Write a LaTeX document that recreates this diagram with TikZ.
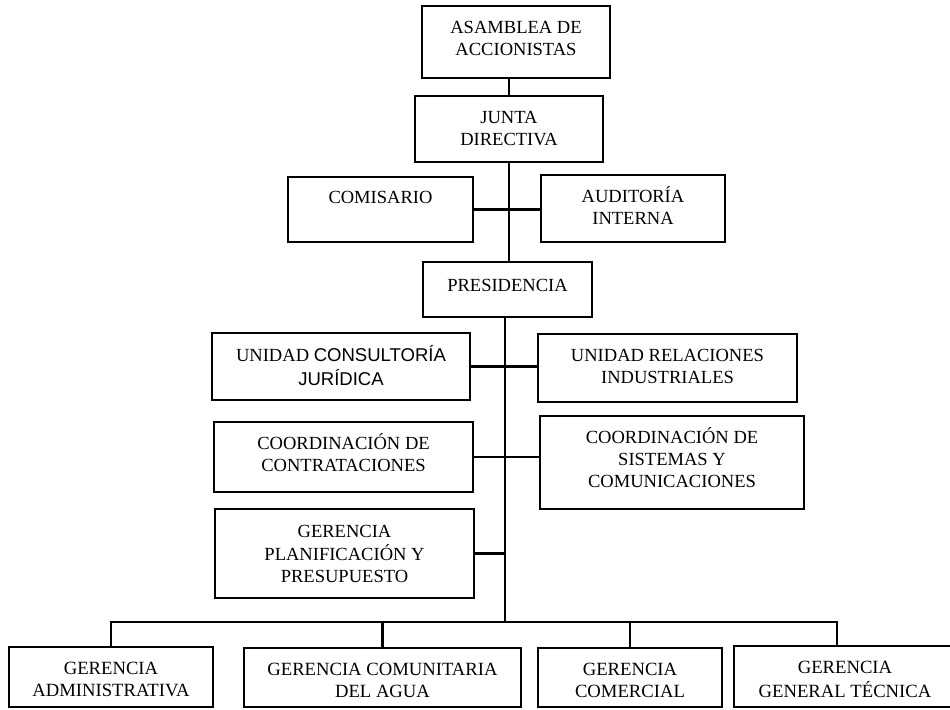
\documentclass[tikz,border=0pt]{standalone}
\usepackage{fontspec}
\setmainfont{Liberation Serif}
\newfontfamily\sansf{Liberation Sans}
\usetikzlibrary{positioning}
\tikzset{
	caja/.style 2 args={draw, line width=1.4pt, inner sep=0pt, minimum width=#1*0.75pt, minimum height=#2*0.75pt},
	texto/.style={inner sep=0pt, align=center, font=\fontsize{13.9}{16.5}\selectfont},
	textog/.style={texto, font=\fontsize{14}{16.5}\selectfont},
	linea/.style={line width=1.6pt}
}
\begin{document}
\begin{tikzpicture}[x=0.75pt, y=-0.75pt]
		\useasboundingbox (0,0) rectangle (950,710);
		
		\node[caja={188}{72}] (asamblea) at (516,42) {};
		\node[caja={188}{66}] (junta) at (509,129) {};
		\node[caja={185}{65}] (comisario) at (380.5,209.5) {};
		\node[caja={184}{67}] (auditoria) at (633,208.5) {};
		\node[caja={169}{55}] (presidencia) at (507.5,289.5) {};
		
		\node[caja={258}{67}] (consultoria) at (341,366.5) {};
		\node[caja={259}{68}] (relaciones) at (667.5,368) {};
		\node[caja={259}{70}] (contrataciones) at (343.5,457) {};
		\node[caja={264}{93}] (sistemas) at (672,462.5) {};
		\node[caja={259}{89}] (planificacion) at (344.5,553.5) {};
		
		\node[caja={204}{60}] (administrativa) at (111,677) {};
		\node[caja={277}{59}] (comunitaria) at (382.5,677.5) {};
		\node[caja={184}{59}] (comercial) at (630,677.5) {};
		\node[caja={222}{61}] (tecnica) at (845,676.5) {};
		
		\node[texto, below=9.5pt of asamblea.north] (asamblea-t) {\strut ASAMBLEA DE\\ACCIONISTAS};
		\node[texto, below=9.5pt of junta.north] (junta-t) {\strut JUNTA\\DIRECTIVA};
		\node[texto, below=9pt of comisario.north] (comisario-t) {\strut COMISARIO};
		\node[texto, below=9pt of auditoria.north] (auditoria-t) {\strut AUDITORÍA\\INTERNA};
		\node[texto, below=11pt of presidencia.north] (presidencia-t) {\strut PRESIDENCIA};
		\node[texto, below=9.5pt of consultoria.north] (consultoria-t) {\strut UNIDAD {\sansf CONSULTORÍA}\\{\sansf JURÍDICA}};
		\node[texto, below=9.5pt of relaciones.north] (relaciones-t) {\strut UNIDAD RELACIONES\\INDUSTRIALES};
		\node[texto, below=9.5pt of contrataciones.north] (contrataciones-t) {\strut COORDINACIÓN DE\\CONTRATACIONES};
		\node[texto, below=9pt of sistemas.north] (sistemas-t) {\strut COORDINACIÓN DE\\SISTEMAS Y\\COMUNICACIONES};
		\node[texto, below=10pt of planificacion.north] (planificacion-t) {\strut GERENCIA\\PLANIFICACIÓN Y\\PRESUPUESTO};
		\node[textog, below=9.5pt of administrativa.north] (administrativa-t) {\strut GERENCIA\\ADMINISTRATIVA};
		\node[textog, below=9.5pt of comunitaria.north] (comunitaria-t) {\strut GERENCIA COMUNITARIA\\DEL AGUA};
		\node[textog, below=9.5pt of comercial.north] (comercial-t) {\strut GERENCIA\\COMERCIAL};
		\node[textog, below=9.5pt of tecnica.north] (tecnica-t) {\strut GERENCIA\\GENERAL TÉCNICA};
		
		\coordinate (barra) at (505,622);
		
		\draw[linea] (junta.north) -- (junta.north |- asamblea.south);
		\draw[linea] (junta.south) -- (junta.south |- presidencia.north);
		\draw[linea] (comisario.east) -- (comisario.east -| auditoria.west);
		\draw[linea] (presidencia.south -| barra) -- (barra);
		
		\draw[linea] (consultoria.east) -- (consultoria.east -| relaciones.west);
		\draw[linea] (contrataciones.east) -- (contrataciones.east -| sistemas.west);
		\draw[linea] (planificacion.east) -- (planificacion.east -| barra);
		
		\draw[linea] (administrativa.north) |- (barra) -| ([xshift=-6pt]tecnica.north);
		\draw[linea] (comunitaria.north) -- (comunitaria.north |- barra);
		\draw[linea] (comercial.north) -- (comercial.north |- barra);
\end{tikzpicture}
\end{document}
